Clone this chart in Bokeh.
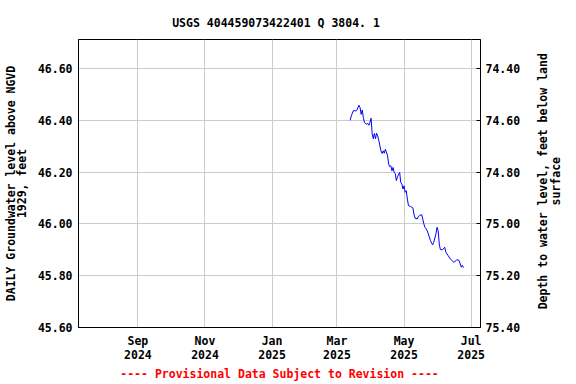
import math
from datetime import datetime
import pandas as pd
from bokeh.plotting import figure
from bokeh.layouts import row
from bokeh.core.properties import value
from bokeh.models import Range1d, LinearAxis, FixedTicker, Title, PrintfTickFormatter, ColumnDataSource
from bokeh.embed import file_html
from bokeh.resources import INLINE

# ---------------- data ----------------
dates = [
    "2025-03-13", "2025-03-14", "2025-03-16", "2025-03-18", "2025-03-19", "2025-03-21",
    "2025-03-22", "2025-03-23", "2025-03-24", "2025-03-25", "2025-03-26", "2025-03-28",
    "2025-03-29", "2025-03-30", "2025-03-31", "2025-04-01", "2025-04-02", "2025-04-03",
    "2025-04-04", "2025-04-05", "2025-04-06", "2025-04-07", "2025-04-08", "2025-04-10",
    "2025-04-11", "2025-04-12", "2025-04-13", "2025-04-14", "2025-04-16", "2025-04-17",
    "2025-04-18", "2025-04-19", "2025-04-20", "2025-04-21", "2025-04-22", "2025-04-23",
    "2025-04-24", "2025-04-25", "2025-04-27", "2025-04-28", "2025-04-29", "2025-04-30",
    "2025-05-01", "2025-05-02", "2025-05-03", "2025-05-04", "2025-05-05", "2025-05-07",
    "2025-05-09", "2025-05-10", "2025-05-11", "2025-05-13", "2025-05-14", "2025-05-15",
    "2025-05-17", "2025-05-18", "2025-05-19", "2025-05-20", "2025-05-21", "2025-05-22",
    "2025-05-23", "2025-05-24", "2025-05-25", "2025-05-26", "2025-05-27", "2025-05-28",
    "2025-05-30", "2025-05-31", "2025-06-01", "2025-06-02", "2025-06-03", "2025-06-05",
    "2025-06-07", "2025-06-08", "2025-06-10", "2025-06-12", "2025-06-15", "2025-06-16",
    "2025-06-18", "2025-06-20", "2025-06-22", "2025-06-23", "2025-06-24",
]
levels = [
    46.400, 46.417, 46.438, 46.436, 46.438, 46.458,
    46.449, 46.423, 46.440, 46.410, 46.391, 46.385,
    46.388, 46.381, 46.391, 46.408, 46.349, 46.329,
    46.349, 46.329, 46.350, 46.340, 46.323, 46.282,
    46.272, 46.282, 46.273, 46.288, 46.263, 46.231,
    46.221, 46.224, 46.205, 46.218, 46.199, 46.195,
    46.167, 46.182, 46.199, 46.160, 46.154, 46.135,
    46.147, 46.122, 46.128, 46.096, 46.071, 46.067,
    46.062, 46.038, 46.022, 46.019, 46.029, 46.032,
    46.036, 46.019, 46.000, 45.987, 45.981, 45.974,
    45.962, 45.949, 45.936, 45.926, 45.919, 45.929,
    45.962, 45.987, 45.974, 45.923, 45.901, 45.900,
    45.910, 45.891, 45.878, 45.865, 45.853, 45.853,
    45.862, 45.859, 45.833, 45.840, 45.831,
]
land_surface = 121.0  # depth below land surface = land_surface - level

x_tick_dates = ["2024-09-01", "2024-11-01", "2025-01-01", "2025-03-01", "2025-05-01", "2025-07-01"]
x_tick_labels = ["Sep\n2024", "Nov\n2024", "Jan\n2025", "Mar\n2025", "May\n2025", "Jul\n2025"]
y_ticks = [45.6, 45.8, 46.0, 46.2, 46.4, 46.6]
depth_ticks = [74.4, 74.6, 74.8, 75.0, 75.2, 75.4]

title_text = "USGS 404459073422401 Q  3804. 1"
footer_text = "---- Provisional Data Subject to Revision ----"
left_label = "DAILY Groundwater level above NGVD\n1929, feet"
right_label = "Depth to water level, feet below land\nsurface"

# ---------------- figure ----------------
FONT = "DejaVu Sans Mono"
FS = "11.5px"

y_lo, y_hi = 45.60, 46.712

p = figure(
    width=530, height=384,
    x_axis_type="datetime",
    x_range=Range1d(datetime(2024, 7, 9), datetime(2025, 7, 9, 12)),
    y_range=Range1d(y_lo, y_hi),
    output_backend="svg", toolbar_location=None,
    min_border_left=78, min_border_right=50, min_border_top=39, min_border_bottom=57,
)
p.title.visible = False
p.outline_line_color = "black"
p.outline_line_width = 1
p.background_fill_color = "white"
p.border_fill_color = "white"

p.extra_y_ranges = {"depth": Range1d(land_surface - y_lo, land_surface - y_hi)}

src = ColumnDataSource(dict(x=pd.to_datetime(dates), y=levels))
p.line("x", "y", source=src, line_color="#0000ff", line_width=1)

tick_ms = [pd.Timestamp(d).value // 10**6 for d in x_tick_dates]

xa = p.xaxis[0]
xa.ticker = FixedTicker(ticks=tick_ms)
xa.major_label_overrides = {t: lab for t, lab in zip(tick_ms, x_tick_labels)}

ya = p.yaxis[0]
ya.ticker = FixedTicker(ticks=y_ticks)
ya.formatter = PrintfTickFormatter(format="%.2f")
ya.axis_label = left_label

ra = LinearAxis(y_range_name="depth", ticker=FixedTicker(ticks=depth_ticks),
                formatter=PrintfTickFormatter(format="%.2f"))
p.add_layout(ra, "right")

for ax in (xa, ya, ra):
    ax.major_label_text_font = FONT
    ax.major_label_text_font_style = "bold"
    ax.major_label_text_font_size = FS
    ax.major_label_text_color = "black"
    ax.axis_label_text_font = FONT
    ax.axis_label_text_font_style = "bold"
    ax.axis_label_text_font_size = FS
    ax.axis_label_text_color = "black"
    ax.axis_label_text_line_height = 0.8
    ax.axis_line_color = "black"
    ax.minor_tick_line_color = None
    ax.major_tick_out = 0
    ax.major_tick_in = 4
    ax.major_tick_line_color = "black"

xa.major_tick_in = 0
ya.major_tick_in = 0
xa.major_label_standoff = 6
xa.major_label_text_line_height = 1.0
ya.major_label_standoff = 6
ra.major_label_standoff = 5
ya.axis_label_standoff = 6

for g in p.grid:
    g.grid_line_color = "#cccccc"
    g.grid_line_width = 1

p.add_layout(Title(text=title_text, align="center", text_font=FONT, text_font_style="bold",
                   text_font_size=FS, text_color="black", standoff=19), "above")
p.add_layout(Title(text=footer_text, align="center", text_font=FONT, text_font_style="bold",
                   text_font_size=FS, text_color="red", standoff=0), "below")

# ---- narrow side panel carrying the right-hand axis title ----
p2 = figure(width=46, height=384, x_range=Range1d(0, 46), y_range=Range1d(0, 384),
            x_axis_type=None, y_axis_type=None, output_backend="svg", toolbar_location=None,
            min_border=0)
p2.title.visible = False
p2.grid.visible = False
p2.outline_line_color = None
p2.background_fill_color = "white"
p2.border_fill_color = "white"
p2.text(x=[19], y=[195], text=[right_label], angle=math.pi / 2,
        text_font=value(FONT), text_font_style="bold", text_font_size=FS,
        text_align="center", text_baseline="middle", text_color="black", text_line_height=0.9)

layout = row(p, p2, spacing=0)

open("out.html", "w").write(file_html(layout, INLINE))
